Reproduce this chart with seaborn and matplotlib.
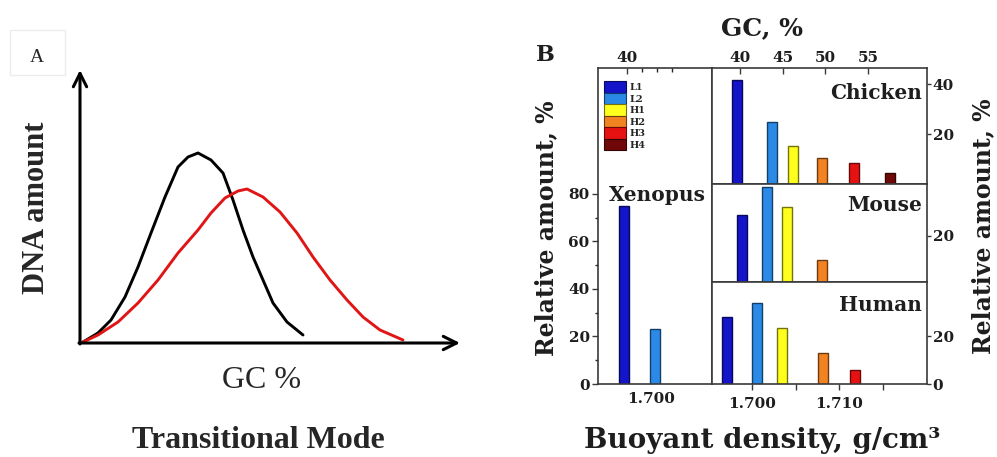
import numpy as np
import pandas as pd
import matplotlib
matplotlib.use("Agg")
import matplotlib.pyplot as plt
import matplotlib.colors as mcolors
from matplotlib.patches import Patch, Rectangle
import seaborn as sns

# ---------------- Panel A data (schematic GC distributions) ----------------
gc_black = [3, 18, 31, 45, 58, 71, 85, 98, 108, 118, 131, 143, 153, 163, 173, 183, 193, 207, 223]
amt_black = [1, 10, 23, 46, 76, 110, 146, 176, 186, 190, 183, 170, 143, 113, 86, 63, 40, 21, 8]
gc_red = [3, 18, 38, 58, 78, 98, 118, 131, 145, 158, 167, 183, 200, 217, 233, 250, 267, 283, 300, 323]
amt_red = [1, 8, 21, 40, 63, 90, 113, 130, 145, 152, 154, 146, 131, 110, 86, 63, 43, 26, 13, 3]

# ---------------- Panel B data (isochore families) ----------------
classes = ["L1", "L2", "H1", "H2", "H3", "H4"]
class_colors = ["#1414c8", "#2a8ae6", "#ffff1e", "#f28322", "#e61212", "#700808"]

xen_cls = ["L1", "L2"]
xen_dens = [1.6969, 1.7005]
xen_amt = [75.0, 23.0]

chk_cls = ["L1", "L2", "H1", "H2", "H3", "H4"]
chk_dens = [1.6983, 1.7023, 1.7047, 1.7080, 1.7117, 1.7159]
chk_amt = [41.6, 24.8, 15.2, 10.4, 8.4, 4.4]

mou_cls = ["L1", "L2", "H1", "H2"]
mou_dens = [1.6989, 1.7017, 1.7040, 1.7080]
mou_amt = [29.0, 41.0, 32.6, 9.6]

hum_cls = ["L1", "L2", "H1", "H2", "H3"]
hum_dens = [1.6971, 1.7006, 1.7034, 1.7082, 1.7118]
hum_amt = [27.9, 33.8, 23.3, 12.9, 5.8]

gc_ticks_right = [40, 45, 50, 55]
gc_ticks_xen = [40]
dens_ticks = [1.700, 1.705, 1.710, 1.715]
dens_labels = ["1.700", "", "1.710", ""]

# ---------------- figure ----------------
sns.set_theme(style="white")
plt.rcParams["font.family"] = ["DejaVu Serif", "DejaVu Sans"]
plt.rcParams["font.weight"] = "bold"

W, H = 997, 457
fig = plt.figure(figsize=(W / 100, H / 100), dpi=100)
fig.patch.set_facecolor("white")


def pax(x0, y0, x1, y1):
    return fig.add_axes([x0 / W, 1 - y1 / H, (x1 - x0) / W, (y1 - y0) / H])


def ftext(x, y, s, **kw):
    fig.text(x / W, 1 - y / H, s, **kw)


PAL = dict(zip(classes, class_colors))
BAR_W = 0.00115
SPINE = "#3a3a3a"
TXT = "#1e1e1e"

# ---------------- Panel A ----------------
axA = pax(78, 66, 462, 345)
axA.set_xlim(-2, 382)
axA.set_ylim(-2, 277)
sns.lineplot(x=gc_black, y=amt_black, ax=axA, color="black", lw=2.1, sort=False)
sns.lineplot(x=gc_red, y=amt_red, ax=axA, color="#e01515", lw=2.1, sort=False)
axA.axis("off")
arrow = dict(arrowstyle="->", lw=2.2, color="black", mutation_scale=24, shrinkA=0, shrinkB=0)
axA.annotate("", xy=(0, 273), xytext=(0, -1), arrowprops=arrow, annotation_clip=False)
axA.annotate("", xy=(380, 0), xytext=(-1, 0), arrowprops=arrow, annotation_clip=False)

fig.patches.append(Rectangle((10 / W, 1 - 75 / H), 55 / W, 45 / H, transform=fig.transFigure,
                             fill=False, edgecolor="#ececec", lw=1))
ftext(37, 57, "A", family="Liberation Serif", fontweight="normal", fontsize=14, ha="center", va="center")
ftext(36, 208, "DNA amount", family="Liberation Serif", fontweight="bold", fontsize=22,
      rotation=90, ha="center", va="center")
ftext(262, 381, "GC %", family="Liberation Serif", fontweight="normal", fontsize=23, ha="center", va="center")
ftext(258, 440, "Transitional Mode", family="Liberation Serif", fontweight="bold", fontsize=23,
      ha="center", va="center")

# ---------------- Panel B ----------------
axX = pax(598, 68, 712, 384)
axC = pax(712, 68, 927, 184)
axM = pax(712, 184, 927, 282)
axH = pax(712, 282, 927, 384)


def draw(ax, dens, amt, cls):
    df = pd.DataFrame({"d": dens, "a": amt, "c": cls})
    mind = np.min(np.diff(np.sort(np.asarray(dens))))
    sns.barplot(data=df, x="d", y="a", hue="c", hue_order=classes, palette=PAL,
                native_scale=True, width=BAR_W / mind, errorbar=None, legend=False,
                saturation=1, ax=ax)
    for p in ax.patches:
        r, g, b, _ = p.get_facecolor()
        p.set_edgecolor((r * 0.45, g * 0.45, b * 0.45))
        p.set_linewidth(1.0)
    ax.set_xlabel("")
    ax.set_ylabel("")
    for s in ax.spines.values():
        s.set_color(SPINE)
        s.set_linewidth(1.2)
        s.set_visible(True)


draw(axX, xen_dens, xen_amt, xen_cls)
draw(axC, chk_dens, chk_amt, chk_cls)
draw(axM, mou_dens, mou_amt, mou_cls)
draw(axH, hum_dens, hum_amt, hum_cls)

axX.set_xlim(1.6939, 1.7070)
axX.set_ylim(0, 133)
for ax in (axC, axM, axH):
    ax.set_xlim(1.6954, 1.7201)
axC.set_ylim(0, 46.4)
axM.set_ylim(0, 42.4)
axH.set_ylim(0, 42.5)

tick_kw = dict(labelsize=11, colors=SPINE, labelcolor=TXT)

# Xenopus axes
axX.set_yticks([0, 20, 40, 60, 80])
axX.set_yticklabels(["0", "20", "40", "60", "80"])
axX.set_yticks([10, 30, 50, 70], minor=True)
axX.set_xticks([1.700])
axX.set_xticklabels(["1.700"])
axX.tick_params(axis="y", which="major", left=True, right=False, direction="out", length=4, width=1, pad=2, **tick_kw)
axX.tick_params(axis="y", which="minor", left=True, right=False, direction="out", length=2.5, width=1)
axX.tick_params(axis="x", which="major", bottom=True, top=False, direction="in", length=4, width=1, pad=6, **tick_kw)

twX = axX.twiny()
twX.set_xlim(38.07, 45.67)
twX.set_xticks(gc_ticks_xen)
twX.set_xticklabels([str(v) for v in gc_ticks_xen])
twX.set_xticks([41, 42, 43], minor=True)
twX.tick_params(axis="x", which="major", direction="in", length=4, width=1, pad=2, **tick_kw)
twX.tick_params(axis="x", which="minor", direction="in", length=3, width=1)
for s in twX.spines.values():
    s.set_visible(False)

# right panels
for ax, yt in ((axC, [20, 40]), (axM, [20]), (axH, [0, 20])):
    ax.yaxis.tick_right()
    ax.set_yticks(yt)
    ax.set_yticklabels([str(v) for v in yt])
    ax.tick_params(axis="y", which="major", left=False, right=True, labelleft=False, labelright=True,
                   direction="out", length=3, width=1, pad=1, **tick_kw)
for ax in (axC, axM):
    ax.set_xticks([])
axH.set_xticks(dens_ticks)
axH.set_xticklabels(dens_labels)
axH.tick_params(axis="x", which="major", bottom=True, top=False, direction="out", length=4, width=1, pad=5, **tick_kw)

twC = axC.twiny()
twC.set_xlim(36.72, 61.9)
twC.set_xticks(gc_ticks_right)
twC.set_xticklabels([str(v) for v in gc_ticks_right])
twC.tick_params(axis="x", which="major", direction="in", length=4, width=1, pad=2, **tick_kw)
for s in twC.spines.values():
    s.set_visible(False)

# legend
handles = [Patch(facecolor=c, edgecolor=tuple(v * 0.45 for v in mcolors.to_rgb(c)), lw=0.8, label=k)
           for k, c in zip(classes, class_colors)]
axX.legend(handles=handles, loc="upper left", bbox_to_anchor=(604 / W, 1 - 81 / H),
           bbox_transform=fig.transFigure, frameon=False, fontsize=7, handlelength=2.3,
           handleheight=1.45, labelspacing=0.0, handletextpad=0.3, borderpad=0, borderaxespad=0)

# panel labels
ftext(657, 195, "Xenopus", fontsize=14.5, ha="center", va="center", color=TXT)
ftext(922, 93, "Chicken", fontsize=14.5, ha="right", va="center", color=TXT)
ftext(922, 205, "Mouse", fontsize=14.5, ha="right", va="center", color=TXT)
ftext(922, 305, "Human", fontsize=14.5, ha="right", va="center", color=TXT)
ftext(762, 28, "GC, %", fontsize=18, ha="center", va="center", color=TXT)
ftext(545, 55, "B", fontsize=16, ha="center", va="center", color=TXT)
ftext(546, 228, "Relative amount, %", fontsize=17, rotation=90, ha="center", va="center", color=TXT)
ftext(983, 226, "Relative amount, %", fontsize=17, rotation=90, ha="center", va="center", color=TXT)
ftext(762, 440, "Buoyant density, g/cm³", fontsize=20, ha="center", va="center", color=TXT)

fig.savefig("out.png", dpi=100, facecolor="white")
